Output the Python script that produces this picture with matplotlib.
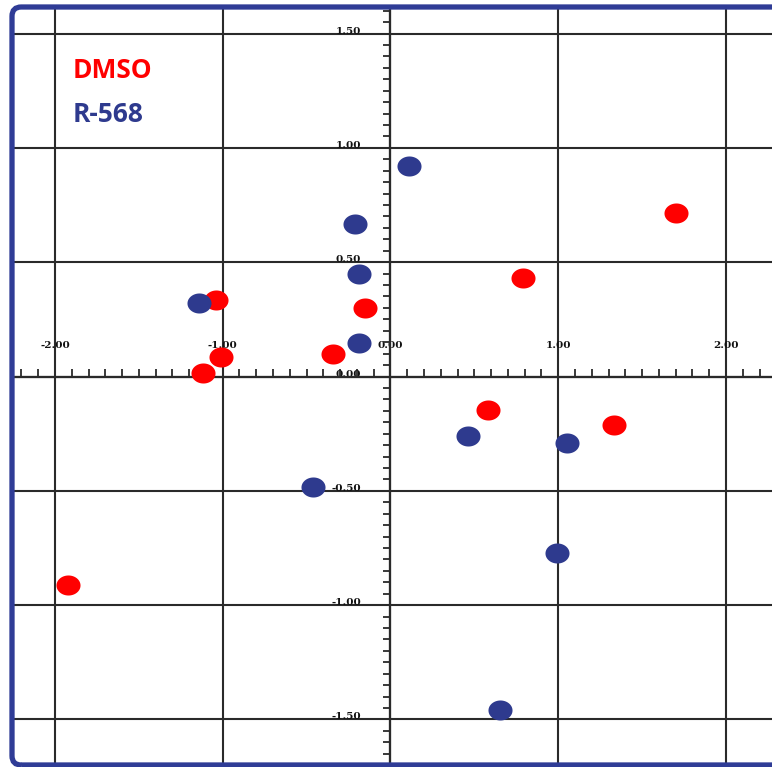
import numpy as np
import matplotlib.pyplot as plt
from matplotlib.ticker import MultipleLocator
from matplotlib.patches import FancyBboxPatch

# DMSO points (red)
dmso_x = [1.70, 0.79, -0.15, -1.04, -1.01, -1.12, -0.34, 0.58, 1.33, -1.92]
dmso_y = [0.715, 0.43, 0.30, 0.335, 0.085, 0.015, 0.10, -0.145, -0.21, -0.91]

# R-568 points (blue)
r568_x = [0.11, -0.21, -0.19, -1.14, -0.19, 0.46, 1.05, -0.46, 0.99, 0.65]
r568_y = [0.92, 0.665, 0.45, 0.32, 0.145, -0.26, -0.29, -0.485, -0.77, -1.46]

x_ticks = [-2, -1, 0, 1, 2]
y_ticks = [-1.5, -1.0, -0.5, 0.0, 0.5, 1.0, 1.5]

red = '#FF0000'
blue = '#2E3A8E'
frame_blue = '#2F3C96'
line_col = '#2a2a2a'

W, H = 772, 767
fig = plt.figure(figsize=(W / 100, H / 100), dpi=100)

# axes fills the blue frame (left 12px, top 7px, bottom 765px, right beyond image)
left, top, bottom = 12, 7, 765
ax = fig.add_axes([left / W, (H - bottom) / H, (W - left) / W, (bottom - top) / H])
ax.patch.set_visible(False)

ax.set_xlim(-2.256, 2.274)
ax.set_ylim(-1.699, 1.616)

# ellipse marker
t = np.linspace(0, 2 * np.pi, 64)
ell = np.column_stack([1.2 * np.cos(t), np.sin(t)])

ax.scatter(dmso_x, dmso_y, s=300, marker=ell, color=red, linewidths=0, zorder=5)
ax.scatter(r568_x, r568_y, s=300, marker=ell, color=blue, linewidths=0, zorder=5)

# axes through the origin
for side in ['top', 'right']:
    ax.spines[side].set_visible(False)
ax.spines['left'].set_position(('data', 0))
ax.spines['bottom'].set_position(('data', 0))
for side in ['left', 'bottom']:
    ax.spines[side].set_color(line_col)
    ax.spines[side].set_linewidth(1.6)

ax.set_xticks(x_ticks)
ax.set_xticklabels(['%.2f' % v for v in x_ticks])
ax.set_yticks(y_ticks)
ax.set_yticklabels(['%.2f' % v for v in y_ticks])
ax.xaxis.set_minor_locator(MultipleLocator(0.1))
ax.yaxis.set_minor_locator(MultipleLocator(0.05))

ax.tick_params(axis='x', which='both', direction='in', length=6, width=1.3,
               color=line_col, pad=-20.5, labelsize=7.5, labelcolor='#111')
ax.tick_params(axis='y', which='both', direction='out', length=5, width=1.3,
               color=line_col, pad=16, labelsize=7.5, labelcolor='#111')
for lbl in ax.get_xticklabels() + ax.get_yticklabels():
    lbl.set_family('DejaVu Serif')
    lbl.set_fontweight('bold')
    lbl.set_va('baseline')

ax.grid(True, which='major', color=line_col, linewidth=1.5)
ax.set_axisbelow(True)

# blue frame
frame = FancyBboxPatch((left / W, (H - bottom) / H), 1.2, (bottom - top) / H,
                       boxstyle='round,pad=0,rounding_size=0.012',
                       transform=fig.transFigure, fill=False,
                       edgecolor=frame_blue, linewidth=3.8, zorder=10)
fig.patches.append(frame)

# legend text
fig.text(73 / W, 1 - 78 / H, 'DMSO', color=red, fontsize=19, fontweight='bold',
         family='Open Sans', va='baseline')
fig.text(73 / W, 1 - 122 / H, 'R-568', color=blue, fontsize=19, fontweight='bold',
         family='Open Sans', va='baseline')

fig.savefig('out.png', dpi=100)
